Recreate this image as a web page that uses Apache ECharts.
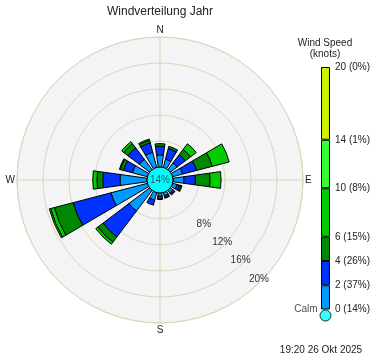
<!DOCTYPE html>
<html>
<head>
<meta charset="utf-8">
<script src="https://cdn.jsdelivr.net/npm/echarts@6/dist/echarts.min.js"></script>
<style>html,body{margin:0;padding:0;background:#fff}#c{width:382px;height:361px}</style>
</head>
<body>
<div id="c"></div>
<script>
// ---- data ----
var directions = ['N','NNE','NE','ENE','E','ESE','SE','SSE','S','SSW','SW','WSW','W','WNW','NW','NNW'];
var binNames = ['0-2','2-4','4-6','6-10','10-14','14-20'];
var binColors = ['#0099ff','#0033ff','#008800','#00cc00','#33ff33','#ccf000'];
var s0_2   = [1.85,1.3,1.3,1.6,1.7,0.7,0.5,0.5,0.5,1.2,4.0,5.8,4.15,2.4,2.0,2.4];
var s2_4   = [1.35,1.7,1.6,2.2,1.75,0.4,0.3,0.3,0.4,0.8,5.0,6.0,2.65,1.4,2.2,1.5];
var s4_6   = [0.4,0.35,1.0,2.5,2.25,0.25,0.1,0.1,0.1,0,1.0,3.0,0.9,0.5,0.8,0.4];
var s6_10  = [0,0,1.1,2.7,1.7,0.15,0,0,0,0,0.4,0.6,0.65,0.15,0.4,0.2];
var s10_14 = [0,0,0,0,0,0,0,0,0,0,0,0.2,0,0,0,0];
var s14_20 = [0,0,0,0,0,0,0,0,0,0,0,0,0,0,0,0];
var calmPct = 14;
var radiusTicks = [8,12,16,20];
var compassLabels = {0:'N',90:'E',180:'S',270:'W'};
var legendEdges = [0,2,4,6,10,14,20];
var legendShares = [14,37,26,15,8,1,0];
var legendSizes = [2,2,2,4,4,6];

var binData = [s0_2,s2_4,s4_6,s6_10,s10_14,s14_20];
var FONT = 'Liberation Sans';
var GRIDC = '#ddd5bb';
var cx = 160, cy = 180;

var series = [];
binData.forEach(function(arr, i){
  series.push({
    type:'bar', coordinateSystem:'polar', polarIndex:0, stack:'ws', name:binNames[i],
    data: arr.map(function(v){ return v === 0 ? '-' : v; }),
    barCategoryGap:'30%',
    itemStyle:{color:binColors[i], borderColor:'#000', borderWidth:1},
    silent:true, z:2
  });
});
series.push({
  type:'pie', center:[cx,cy], radius:[0,13], silent:true, z:4,
  data:[{value:calmPct, name:'Calm'}],
  itemStyle:{color:'#00ffff', borderColor:'#000', borderWidth:1},
  label:{show:true, position:'center', formatter:'{c}%', fontSize:10, color:'#1d5f63', fontFamily:FONT},
  labelLine:{show:false}
});
// legend colour bar
legendSizes.forEach(function(v, i){
  series.push({
    type:'bar', xAxisIndex:0, yAxisIndex:0, stack:'leg', data:[v], barWidth:9,
    itemStyle:{color:binColors[i], borderColor:'#000', borderWidth:1}, silent:true
  });
});
series.push({
  type:'scatter', xAxisIndex:0, yAxisIndex:0, data:[[0,0]], symbol:'circle', symbolSize:11,
  symbolOffset:[0,6], z:5, silent:true,
  itemStyle:{color:'#00ffff', borderColor:'#000', borderWidth:1},
  label:{show:true, position:'left', distance:2, formatter:'Calm', fontSize:10, color:'#222', fontFamily:FONT, offset:[0,-6]}
});

var shareMap = {};
legendEdges.forEach(function(e,i){ shareMap[e] = e + ' (' + legendShares[i] + '%)'; });

var option = {
  animation:false,
  textStyle:{fontFamily:FONT},
  title:[
    {text:'Windverteilung Jahr', left:160, top:6, textAlign:'center', padding:0,
     textStyle:{fontSize:12, fontWeight:'normal', color:'#222', fontFamily:FONT}},
    {text:'Wind Speed\n(knots)', left:325, top:38, textAlign:'center', padding:0,
     textStyle:{fontSize:10, fontWeight:'normal', color:'#222', lineHeight:11, fontFamily:FONT}},
    {text:'19:20 26 Okt 2025', left:321, top:345, textAlign:'center', padding:0,
     textStyle:{fontSize:10, fontWeight:'normal', color:'#222', fontFamily:FONT}}
  ],
  polar:[
    {center:[cx,cy], radius:[13,143]},
    {center:[cx,cy], radius:[0,143]},
    {center:[cx,cy], radius:[10,140]}
  ],
  angleAxis:[
    {polarIndex:0, type:'category', data:directions, startAngle:90+11.25, clockwise:true,
     axisLine:{show:false}, axisTick:{show:false}, axisLabel:{show:false}, splitLine:{show:false}},
    {polarIndex:1, type:'value', min:0, max:360, interval:90, startAngle:90, clockwise:true, z:1,
     axisLine:{show:true, lineStyle:{color:GRIDC, width:1}}, axisTick:{show:false},
     axisLabel:{show:true, margin:2, fontSize:10, color:'#222', fontFamily:FONT,
       formatter:function(v){ return compassLabels[v] || ''; }},
     splitLine:{show:true, lineStyle:{color:GRIDC, width:1}}},
    {polarIndex:2, type:'value', min:0, max:360, startAngle:-45, clockwise:true,
     axisLine:{show:false}, axisTick:{show:false}, axisLabel:{show:false}, splitLine:{show:false}}
  ],
  radiusAxis:[
    {polarIndex:0, type:'value', min:0, max:20, interval:4, z:1,
     axisLine:{show:false}, axisTick:{show:false}, axisLabel:{show:false},
     splitLine:{show:true, lineStyle:{color:GRIDC, width:1}}},
    {polarIndex:1, type:'value', min:0, max:1, interval:1, z:0,
     axisLine:{show:false}, axisTick:{show:false}, axisLabel:{show:false}, splitLine:{show:false},
     splitArea:{show:true, areaStyle:{color:['#f4f4f4','#f4f4f4']}}},
    {polarIndex:2, type:'value', min:0, max:20, interval:4, z:3,
     axisLine:{show:false}, axisTick:{show:false}, splitLine:{show:false},
     axisLabel:{show:true, margin:0, align:'center', verticalAlign:'middle', rotate:0,
       fontSize:10, color:'#333', fontFamily:FONT,
       formatter:function(v){ return radiusTicks.indexOf(v) >= 0 ? v + '%' : ''; }}}
  ],
  grid:[{left:321, top:67, width:9, height:242.5}],
  xAxis:[{gridIndex:0, type:'category', data:['s'], show:false}],
  yAxis:[{gridIndex:0, type:'value', min:0, max:20, interval:2, position:'right',
    axisLine:{show:false}, axisTick:{show:false}, splitLine:{show:false},
    axisLabel:{show:true, margin:5, fontSize:10, color:'#222', fontFamily:FONT,
      formatter:function(v){ return shareMap[v] || ''; }}}],
  series:series
};
var chart = echarts.init(document.getElementById('c'), null, {renderer:'canvas'});
chart.setOption(option);
</script>
</body>
</html>
